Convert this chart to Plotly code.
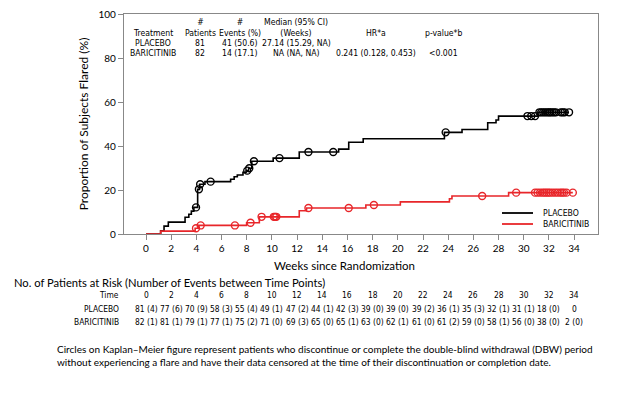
import plotly.graph_objects as go

# ---------------- data ----------------
placebo_t = [0, 1.16, 1.43, 1.77, 3.1, 3.4, 3.6, 3.8, 4.1, 4.25, 4.68, 6.72, 7.0, 7.25, 7.7, 7.95,
             8.15, 8.4, 10.1, 12.17, 15.3, 16.1, 17.25, 23.7, 25.1, 27.14, 27.8, 28.0, 31.1, 33.6]
placebo_p = [0, 1.4, 3.6, 5.4, 7.6, 9.0, 10.4, 12.1, 20.3, 22.6, 23.8, 24.9, 26.0, 26.8, 28.0, 28.8,
             29.9, 33.1, 34.5, 37.3, 38.6, 41.7, 43.3, 46.2, 47.5, 50.6, 51.8, 53.6, 55.3, 55.3]
placebo_cens_t = [3.97, 4.2, 4.3, 5.13, 8.04, 8.2, 8.57, 10.6, 12.9, 14.87, 23.8, 30.3, 30.6, 30.9,
                  31.25, 31.4, 31.55, 31.7, 31.85, 32.0, 32.1, 32.25, 32.4, 32.55, 32.95, 33.1, 33.25, 33.6]
placebo_cens_p = [12.1, 20.3, 22.6, 23.8, 28.8, 29.9, 33.1, 34.5, 37.3, 37.3, 46.2, 53.6, 53.6, 53.6,
                  55.3, 55.3, 55.3, 55.3, 55.3, 55.3, 55.3, 55.3, 55.3, 55.3, 55.3, 55.3, 55.3, 55.3]

bari_t = [0, 1.16, 3.9, 4.15, 7.99, 9.0, 12.17, 12.75, 17.46, 20.2, 24.1, 24.3, 28.8, 33.9]
bari_p = [0, 1.3, 2.6, 3.9, 5.1, 7.8, 10.6, 11.8, 13.2, 14.6, 16.0, 17.3, 18.8, 18.8]
bari_cens_t = [3.97, 4.34, 7.06, 8.3, 9.18, 10.15, 10.25, 10.35, 12.9, 16.1, 18.1, 26.7, 29.4,
               30.9, 31.1, 31.3, 31.5, 31.65, 31.8, 31.95, 32.1, 32.3, 32.5, 32.7, 32.9, 33.05,
               33.2, 33.4, 33.9]
bari_cens_p = [2.6, 3.9, 3.9, 5.1, 7.8, 7.8, 7.8, 7.8, 11.8, 11.8, 13.2, 17.3, 18.8,
               18.8, 18.8, 18.8, 18.8, 18.8, 18.8, 18.8, 18.8, 18.8, 18.8, 18.8, 18.8, 18.8,
               18.8, 18.8, 18.8]

risk_times = [0, 2, 4, 6, 8, 10, 12, 14, 16, 18, 20, 22, 24, 26, 28, 30, 32, 34]
placebo_at_risk = [81, 77, 70, 58, 55, 49, 47, 44, 42, 39, 39, 39, 36, 35, 32, 31, 18, 0]
placebo_events = [4, 6, 9, 3, 4, 1, 2, 1, 3, 0, 0, 2, 1, 3, 1, 1, 0, None]
bari_at_risk = [82, 81, 79, 77, 75, 71, 69, 65, 65, 63, 62, 61, 61, 59, 58, 56, 38, 2]
bari_events = [1, 1, 1, 1, 2, 0, 3, 0, 1, 0, 1, 0, 2, 0, 1, 0, 0, 0]

summary_header = ["Treatment", "#<br>Patients", "#<br>Events (%)", "Median (95% CI)<br>(Weeks)", "HR*a", "p-value*b"]
summary_placebo = ["PLACEBO", "81", "41 (50.6)", "27.14 (15.29, NA)", "", ""]
summary_bari = ["BARICITINIB", "82", "14 (17.1)", "NA (NA, NA)", "0.241 (0.128, 0.453)", "<0.001"]

series_names = ["PLACEBO", "BARICITINIB"]
series_colors = ["black", "#e8262a"]

yticks = [0, 20, 40, 60, 80, 100]
xticks = list(range(0, 35, 2))

# ---------------- layout helpers (page coordinates; page body has an 8px margin) ----------------
OFF = 8
L, R, T, B = 124, 598, 14, 234
W, H = 644, 393


def px(x):
    return (x - L) / (R - L)


def py(y):
    return (B - y) / (B - T)


FONT = "Lato, sans-serif"
NARROW = "'Liberation Sans Narrow', 'DejaVu Sans Condensed', Lato, sans-serif"
fig = go.Figure()

for t, p, c, n in [(placebo_t, placebo_p, series_colors[0], series_names[0]),
                   (bari_t, bari_p, series_colors[1], series_names[1])]:
    fig.add_trace(go.Scatter(x=t, y=p, mode="lines", line=dict(color=c, width=1.6, shape="hv"),
                             name=n, showlegend=False))
for t, p, c in [(placebo_cens_t, placebo_cens_p, series_colors[0]),
                (bari_cens_t, bari_cens_p, series_colors[1])]:
    fig.add_trace(go.Scatter(x=t, y=p, mode="markers", showlegend=False,
                             marker=dict(symbol="circle-open", size=7, color=c, line=dict(width=1.4))))

ann = []
shapes = []
HDR = dict(size=8.6, color="black", family=NARROW)
TBL = dict(size=8.4, color="black", family=NARROW)
# summary table inside plot
col_x = [153, 200, 240, 296, 376, 443]
for i, txt in enumerate(summary_header):
    yy = 28 if "<br>" in txt else 33
    ann.append(dict(x=px(col_x[i]), y=py(yy), xref="paper", yref="paper", text=txt, showarrow=False,
                    xanchor="center", yanchor="middle", font=HDR))
for i, txt in enumerate(summary_placebo):
    if txt:
        ann.append(dict(x=px(col_x[i]), y=py(43), xref="paper", yref="paper", text=txt, showarrow=False,
                        xanchor="center", yanchor="middle", font=HDR))
for i, txt in enumerate(summary_bari):
    if txt:
        ann.append(dict(x=px(col_x[i]), y=py(53), xref="paper", yref="paper", text=txt, showarrow=False,
                        xanchor="center", yanchor="middle", font=HDR))

# manual legend
for k, (n, c) in enumerate(zip(series_names, series_colors)):
    yy = 213 + 11 * k
    shapes.append(dict(type="line", xref="paper", yref="paper", x0=px(502), x1=px(533), y0=py(yy), y1=py(yy),
                       line=dict(color=c, width=1.8)))
    ann.append(dict(x=px(541), y=py(yy), xref="paper", yref="paper", text=n, showarrow=False,
                    xanchor="left", yanchor="middle", font=HDR))

# x axis title
ann.append(dict(x=px(344), y=py(265), xref="paper", yref="paper", text="Weeks since Randomization",
                showarrow=False, xanchor="center", yanchor="middle", font=dict(size=11.5, color="black", family=FONT)))
# risk table
ann.append(dict(x=px(12), y=py(282), xref="paper", yref="paper",
                text="No. of Patients at Risk (Number of Events between Time Points)",
                showarrow=False, xanchor="left", yanchor="middle", font=dict(size=11.2, color="black", family=FONT)))
rows = [("Time", [str(t) for t in risk_times], 295),
        ("PLACEBO", [f"{n} ({e})" if e is not None else f"{n}" for n, e in zip(placebo_at_risk, placebo_events)], 308.5),
        ("BARICITINIB", [f"{n} ({e})" for n, e in zip(bari_at_risk, bari_events)], 322)]
for label, vals, yy in rows:
    ann.append(dict(x=px(121), y=py(yy), xref="paper", yref="paper", text=label, showarrow=False,
                    xanchor="right", yanchor="middle", font=TBL))
    for t, v in zip(risk_times, vals):
        ann.append(dict(x=t, y=py(yy), xref="x", yref="paper", text=v, showarrow=False,
                        xanchor="center", yanchor="middle", font=TBL))
# footnote
ann.append(dict(x=px(55), y=py(355), xref="paper", yref="paper", align="left",
                text="Circles on Kaplan\u2013Meier figure represent patients who discontinue or complete the double-blind withdrawal (DBW) period<br>"
                     "without experiencing a flare and have their data censored at the time of their discontinuation or completion date.",
                showarrow=False, xanchor="left", yanchor="middle", font=dict(size=10, color="black", family=FONT)))

fig.update_layout(
    width=W, height=H,
    margin=dict(l=L - OFF, r=W - (R - OFF), t=T - OFF, b=H - (B - OFF), autoexpand=False),
    paper_bgcolor="white", plot_bgcolor="white",
    font=dict(family=FONT, color="black", size=10),
    annotations=ann, shapes=shapes,
    showlegend=False,
)
fig.update_xaxes(range=[-1.75, 35.9], tickvals=xticks, ticktext=[str(t) for t in xticks],
                 showgrid=False, zeroline=False, showline=True, linecolor="#888888", linewidth=1.4,
                 mirror=True, ticks="outside", ticklen=5, tickcolor="#888888", tickwidth=1.2,
                 tickfont=dict(size=10, family=FONT, color="black"), automargin=False,
                 ticklabeloverflow="allow")
fig.update_yaxes(range=[0, 100], tickvals=yticks, showgrid=False, zeroline=False, showline=True,
                 linecolor="#888888", linewidth=1.4, mirror=True, ticks="outside", ticklen=5,
                 tickcolor="#888888", tickwidth=1.2, tickfont=dict(size=10, family=FONT, color="black"),
                 automargin=False, ticklabeloverflow="allow",
                 title=dict(text="Proportion of Subjects Flared (%)", font=dict(size=12, family=FONT, color="black"),
                            standoff=7))

fig.write_html("out.html")
